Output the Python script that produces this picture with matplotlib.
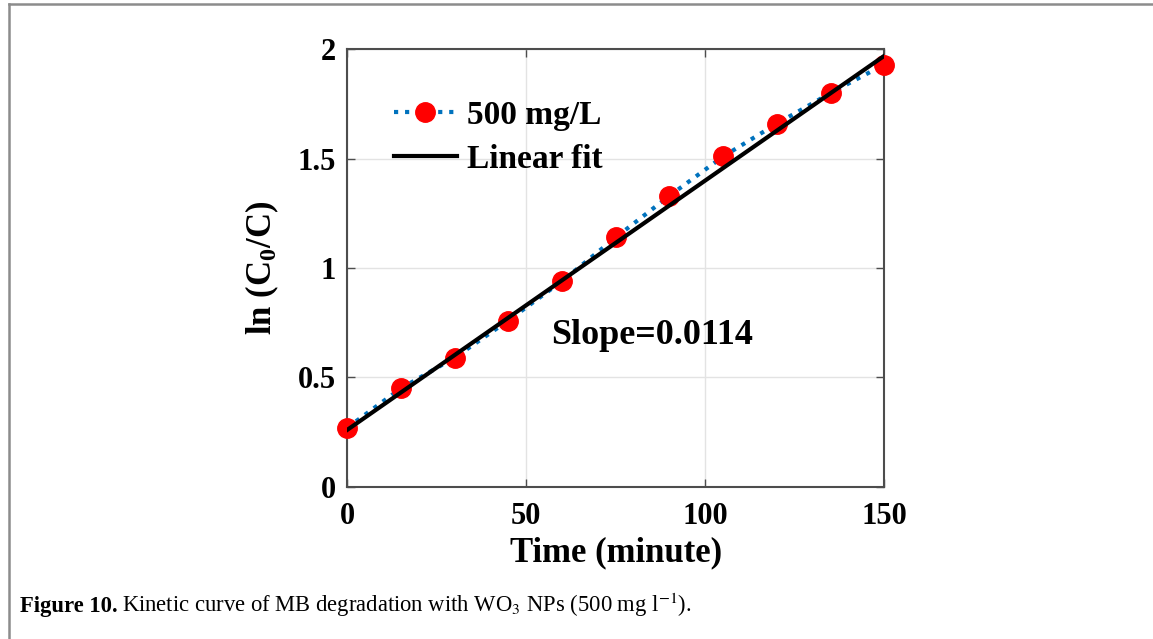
import matplotlib
matplotlib.use('Agg')
import matplotlib.pyplot as plt
from matplotlib.lines import Line2D

# data
time_min = [0, 15, 30, 45, 60, 75, 90, 105, 120, 135, 150]
ln_c0_c = [0.27, 0.45, 0.59, 0.76, 0.94, 1.14, 1.33, 1.51, 1.66, 1.80, 1.93]
fit_x = [0, 150]
fit_y = [0.26, 1.97]
x_ticks = [0, 50, 100, 150]
y_ticks = [0, 0.5, 1, 1.5, 2]
y_tick_labels = ['0', '0.5', '1', '1.5', '2']

SERIF = 'Liberation Serif'
TICK_SIZE = 22
LABEL_SIZE = 25
LEGEND_SIZE = 24
SPINE_COLOR = '#4d4d4d'
GRID_COLOR = '#e3e3e3'
DOT_BLUE = '#0072BD'

plt.rcParams.update({'font.family': SERIF,
                     'mathtext.fontset': 'custom',
                     'mathtext.rm': SERIF + ':bold',
                     'mathtext.bf': SERIF + ':bold',
                     'mathtext.it': SERIF + ':bold:italic'})

fig = plt.figure(figsize=(11.53, 6.39), dpi=100, facecolor='w')
ax = fig.add_axes([0.301, 0.238, 0.466, 0.685])

p_data, = ax.plot(time_min, ln_c0_c, linestyle=':', color=DOT_BLUE, linewidth=3,
                  marker='o', markersize=14, markerfacecolor='red', markeredgecolor='red',
                  clip_on=False, zorder=3)
p_fit, = ax.plot(fit_x, fit_y, color='black', linewidth=3, zorder=4)

ax.set_xlim(0, 150)
ax.set_ylim(0, 2)
ax.set_xticks(x_ticks)
ax.set_yticks(y_ticks)
ax.set_yticklabels(y_tick_labels)
ax.tick_params(direction='in', length=6, width=1, color=SPINE_COLOR, top=True, right=True,
               labelsize=TICK_SIZE, pad=8)
ax.tick_params(axis='x', pad=11)
for lbl in ax.get_xticklabels() + ax.get_yticklabels():
    lbl.set_fontweight('bold')
ax.grid(True, color=GRID_COLOR, linewidth=1)
ax.set_axisbelow(True)
for sp in ax.spines.values():
    sp.set_color(SPINE_COLOR)
    sp.set_linewidth(1.5)

ax.set_xlabel('Time (minute)', fontsize=LABEL_SIZE, fontweight='bold', labelpad=4)
ax.set_ylabel(r'ln (C$_0$/C)', fontsize=LABEL_SIZE, fontweight='bold', labelpad=12)

ax.legend((p_data, p_fit), ('500 mg/L', 'Linear fit'), loc='upper left',
          bbox_to_anchor=(0.062, 0.915), frameon=False,
          prop={'weight': 'bold', 'size': LEGEND_SIZE},
          handlelength=1.9, handletextpad=0.3, labelspacing=0.4, borderaxespad=0)

ax.text(57, 0.69, 'Slope=0.0114', fontsize=26, fontweight='bold', ha='left', va='center')

# page frame (top and left edges only)
fig.add_artist(Line2D([9 / 1153, 1], [1 - 4 / 639, 1 - 4 / 639], transform=fig.transFigure,
                      color='#8c8c8c', linewidth=1.8))
fig.add_artist(Line2D([9 / 1153, 9 / 1153], [0, 1 - 4 / 639], transform=fig.transFigure,
                      color='#8c8c8c', linewidth=1.8))

# caption
cap_y = 1 - 612 / 639
t1 = fig.text(20 / 1153, cap_y, 'Figure 10.', fontsize=16.3, fontweight='bold',
              ha='left', va='baseline')
fig.canvas.draw()
bb = t1.get_window_extent(fig.canvas.get_renderer())
fig.text((bb.x1 + 4) / 1153, cap_y,
         r'Kinetic curve of MB degradation with WO$_3$ NPs (500 mg l$^{-1}$).',
         fontsize=16.3, fontweight='normal', math_fontfamily='stix', ha='left', va='baseline')

plt.savefig('out.png', dpi=100)
